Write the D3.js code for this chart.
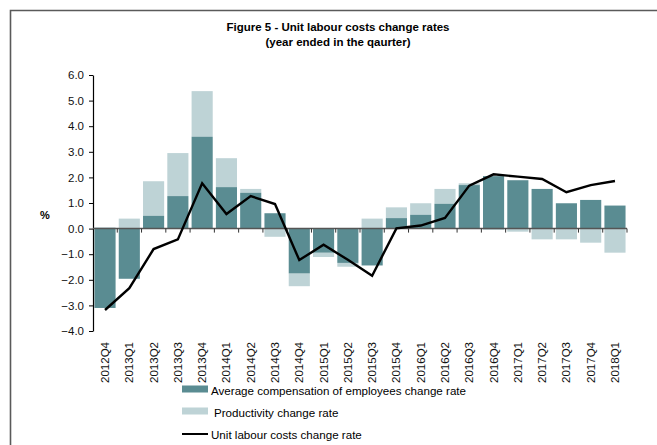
<!DOCTYPE html>
<html>
<head>
<meta charset="utf-8">
<script src="https://cdn.jsdelivr.net/npm/d3@7/dist/d3.min.js"></script>
<style>
  html, body { margin: 0; padding: 0; background: #fff; }
  svg { display: block; font-family: "Liberation Sans", Arial, sans-serif; }
</style>
</head>
<body>
<svg id="chart" width="657" height="445"></svg>
<script>
const categories = ["2012Q4","2013Q1","2013Q2","2013Q3","2013Q4","2014Q1","2014Q2","2014Q3","2014Q4",
  "2015Q1","2015Q2","2015Q3","2015Q4","2016Q1","2016Q2","2016Q3","2016Q4","2017Q1","2017Q2","2017Q3","2017Q4","2018Q1"];
const compensation = [-3.1,-1.96,0.5,1.27,3.59,1.62,1.4,0.6,-1.75,-0.94,-1.34,-1.44,0.41,0.54,0.97,1.7,2.05,1.89,1.55,0.99,1.12,0.9];
const productivity = [0.05,0.39,1.35,1.68,1.78,1.13,0.15,-0.32,-0.5,-0.17,-0.15,0.39,0.42,0.45,0.58,0.07,-0.05,-0.12,-0.42,-0.42,-0.55,-0.94];
const unitLabourCosts = [-3.18,-2.33,-0.8,-0.42,1.77,0.57,1.27,0.96,-1.23,-0.63,-1.22,-1.84,0.01,0.12,0.42,1.68,2.12,2.03,1.94,1.42,1.7,1.86];
const yTicks = [-4,-3,-2,-1,0,1,2,3,4,5,6];
const seriesNames = ["Average compensation of employees change rate","Productivity change rate","Unit labour costs change rate"];
const titleLines = ["Figure 5 - Unit labour costs change rates","(year ended in the qaurter)"];
const yLabel = "%";

(function draw() {
const colors = { comp: "#5a8c92", prod: "#bed3d6", line: "#000" };

const svg = d3.select("#chart");

// frame
svg.append("path")
  .attr("d", "M10.5,445 L10.5,10.5 L657,10.5")
  .attr("fill", "none").attr("stroke", "#5a5a5a").attr("stroke-width", 1.6);

// title
const title = svg.append("text").attr("text-anchor", "middle")
  .attr("font-weight", "bold").attr("font-size", 11.5).attr("fill", "#000");
titleLines.forEach((t, i) => {
  title.append("tspan").attr("x", 338).attr("y", 31 + i * 15).text(t);
});

const pLeft = 93, pRight = 627, pTop = 75, pBottom = 331;
const x = d3.scaleBand().domain(categories).range([pLeft, pRight]).paddingInner(0.13).paddingOuter(0.06);
const y = d3.scaleLinear().domain([-4, 6]).range([pBottom, pTop]);

const rows = categories.map((c, i) => ({ cat: c, comp: compensation[i], prod: productivity[i] }));
const stack = d3.stack().keys(["comp", "prod"]).offset(d3.stackOffsetDiverging);
const layers = stack(rows);

const bars = svg.append("g");
[layers[1], layers[0]].forEach(layer => {
  bars.append("g").attr("fill", colors[layer.key])
    .selectAll("rect").data(layer).join("rect")
    .attr("x", d => x(d.data.cat))
    .attr("width", x.bandwidth())
    .attr("y", d => y(Math.max(d[0], d[1])))
    .attr("height", d => Math.abs(y(d[0]) - y(d[1])));
});

// y axis
const yAxis = d3.axisLeft(y).tickValues(yTicks).tickFormat(d3.format(".1f")).tickSize(4).tickSizeOuter(0);
const gy = svg.append("g").attr("transform", `translate(${pLeft},0)`).call(yAxis);
gy.select(".domain").attr("stroke", "#000").attr("stroke-width", 1.2);
gy.selectAll(".tick line").attr("stroke", "#000");
gy.selectAll(".tick text").attr("font-size", 11.5).attr("fill", "#111").attr("x", -9)
  .attr("font-family", "Liberation Sans, Arial, sans-serif");

svg.append("text").attr("x", 45).attr("y", 219).attr("text-anchor", "middle")
  .attr("font-size", 11).attr("font-weight", "bold").text(yLabel);

// zero line with boundary ticks
const zy = y(0);
svg.append("line").attr("x1", pLeft).attr("x2", pRight).attr("y1", zy).attr("y2", zy)
  .attr("stroke", "#555").attr("stroke-width", 1.5);
const bounds = d3.range(categories.length + 1).map(i => pLeft + (pRight - pLeft) * i / categories.length);
svg.append("g").selectAll("line").data(bounds.slice(1)).join("line")
  .attr("x1", d => d).attr("x2", d => d).attr("y1", zy).attr("y2", zy + 4)
  .attr("stroke", "#333").attr("stroke-width", 1);

// category labels rotated
svg.append("g").selectAll("text").data(categories).join("text")
  .attr("transform", d => `translate(${x(d) + x.bandwidth() / 2 + 4},342) rotate(-90)`)
  .attr("text-anchor", "end").attr("font-size", 11.5).attr("fill", "#111").text(d => d);

// ULC line
const line = d3.line().x((d, i) => x(categories[i]) + x.bandwidth() / 2).y(d => y(d));
svg.append("path").datum(unitLabourCosts).attr("d", line)
  .attr("fill", "none").attr("stroke", colors.line).attr("stroke-width", 2.4)
  .attr("stroke-linejoin", "miter");

// legend
const lg = svg.append("g");
lg.append("rect").attr("x", 182).attr("y", 385.5).attr("width", 26).attr("height", 7).attr("fill", colors.comp);
lg.append("text").attr("x", 211).attr("y", 394.5).attr("font-size", 11.6).text(seriesNames[0]);
lg.append("rect").attr("x", 182).attr("y", 407.5).attr("width", 26).attr("height", 7).attr("fill", colors.prod);
lg.append("text").attr("x", 214).attr("y", 416.5).attr("font-size", 11.6).text(seriesNames[1]);
lg.append("line").attr("x1", 182).attr("x2", 208).attr("y1", 434).attr("y2", 434)
  .attr("stroke", "#000").attr("stroke-width", 2);
lg.append("text").attr("x", 211).attr("y", 438.5).attr("font-size", 11.6).text(seriesNames[2]);
})();
</script>
</body>
</html>
